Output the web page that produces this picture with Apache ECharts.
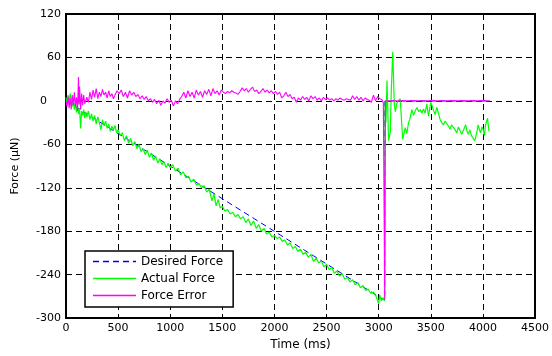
<!DOCTYPE html>
<html>
<head>
<meta charset="utf-8">
<script src="https://cdn.jsdelivr.net/npm/echarts@6/dist/echarts.min.js"></script>
<style>
  html, body { margin: 0; padding: 0; background: #fff; }
  #chart { width: 552px; height: 356px; }
</style>
</head>
<body>
<div id="chart"></div>
<script>
// axis ticks
const timeTicks = [0, 500, 1000, 1500, 2000, 2500, 3000, 3500, 4000, 4500];
const forceTicks = [-300, -240, -180, -120, -60, 0, 60, 120];

// [time (ms), force (uN)]
const desiredForce = [[0, 0], [3058, -275.5], [3060, 0], [4065, 0]];

const actualForce = [
  [0, 5], [10, -6], [20, 8], [30, -4], [40, 10], [50, 2], [60, -8], [70, 4], [80, -12], [90, -3],
  [100, -16], [110, -6], [120, -18], [130, -10], [140, -38], [150, -14], [160, -20], [170, -12],
  [180, -24], [190, -15], [200, -22], [215, -14], [230, -26], [245, -18], [260, -28], [275, -20],
  [290, -32], [305, -22], [320, -30], [335, -40], [350, -26], [365, -34], [380, -28], [395, -38],
  [410, -32], [425, -42], [440, -35], [455, -40], [470, -34], [485, -44], [500, -40], [520, -48],
  [540, -44], [560, -55], [580, -48], [600, -58], [620, -52], [640, -62], [660, -56], [680, -66],
  [700, -60], [720, -70], [740, -66], [760, -74], [780, -68], [800, -78], [820, -72], [840, -82],
  [860, -76], [880, -86], [900, -80], [920, -88], [940, -84], [960, -92], [980, -86], [1000, -92],
  [1025, -88], [1050, -97], [1075, -93], [1100, -102], [1125, -98], [1150, -106], [1175, -104],
  [1200, -112], [1225, -108], [1250, -116], [1275, -114], [1300, -120], [1325, -117], [1350, -126],
  [1375, -122], [1400, -138], [1420, -128], [1440, -145], [1460, -136], [1480, -148], [1500, -146],
  [1525, -152], [1550, -150], [1575, -156], [1600, -154], [1625, -160], [1650, -157], [1675, -163],
  [1700, -160], [1725, -168], [1750, -163], [1775, -172], [1800, -166], [1825, -176], [1850, -171],
  [1875, -180], [1900, -176], [1925, -184], [1950, -181], [1975, -188], [2000, -186], [2025, -190],
  [2050, -188], [2075, -194], [2100, -192], [2125, -199], [2150, -196], [2175, -204], [2200, -201],
  [2225, -208], [2250, -205], [2275, -212], [2300, -209], [2325, -216], [2350, -212], [2375, -222],
  [2400, -217], [2425, -224], [2450, -221], [2475, -229], [2500, -226], [2525, -233], [2550, -230],
  [2575, -238], [2600, -235], [2625, -242], [2650, -239], [2675, -246], [2700, -244], [2725, -250],
  [2750, -247], [2775, -254], [2800, -251], [2825, -258], [2850, -255], [2875, -262], [2900, -260],
  [2925, -266], [2950, -264], [2975, -270], [3000, -280], [3010, -268], [3025, -276], [3040, -272],
  [3055, -276], [3062, 0], [3070, -30], [3080, 28], [3095, -55], [3112, -43], [3120, 10],
  [3135, 68], [3150, -5], [3160, -15], [3175, -3], [3190, 0], [3207, 3], [3230, -53], [3255, -37],
  [3270, -45], [3287, -30], [3300, -25], [3318, -12], [3335, -20], [3350, -14], [3367, -9],
  [3385, -15], [3400, -12], [3414, -17], [3430, -11], [3446, -17], [3462, -4], [3478, -21],
  [3500, -2], [3515, -8], [3526, -13], [3542, -19], [3558, -9], [3575, -18], [3590, -26],
  [3605, -30], [3621, -33], [3637, -28], [3653, -29], [3670, -35], [3685, -39], [3700, -33],
  [3717, -35], [3733, -40], [3749, -44], [3765, -36], [3781, -38], [3797, -46], [3813, -44],
  [3835, -33], [3848, -42], [3860, -46], [3875, -40], [3890, -48], [3905, -50], [3922, -55],
  [3940, -45], [3955, -33], [3967, -40], [3978, -44], [3990, -36], [4004, -40], [4015, -48],
  [4026, -33], [4045, -24], [4058, -42]
];

const forceError = [
  [0, 0], [10, -8], [20, 6], [30, -10], [40, 4], [50, -12], [60, 8], [70, -6], [80, 12], [90, -8],
  [100, 5], [110, -14], [120, 33], [125, -5], [130, 20], [140, -12], [150, 10], [160, -6], [170, 8],
  [180, -4], [200, 5], [215, -2], [230, 12], [245, 2], [260, 15], [275, 5], [290, 17], [305, 3],
  [320, 12], [335, 6], [350, 16], [365, 8], [380, 12], [395, 4], [410, 14], [425, 6], [440, 10],
  [455, 3], [470, 8], [490, 14], [510, 10], [530, 15], [550, 6], [570, 12], [590, 4], [610, 14],
  [630, 8], [650, 12], [670, 6], [690, 9], [710, 3], [730, 7], [750, 2], [770, 6], [790, 0],
  [810, 3], [830, -2], [850, 2], [870, -4], [890, 1], [910, -6], [930, 0], [950, -3], [970, 3],
  [990, -2], [1010, 1], [1030, -7], [1050, 0], [1070, -4], [1090, 2], [1110, 6], [1130, 12],
  [1150, 4], [1170, 14], [1190, 6], [1210, 12], [1230, 4], [1250, 15], [1270, 8], [1290, 13],
  [1310, 5], [1330, 14], [1350, 9], [1370, 16], [1390, 7], [1410, 17], [1430, 10], [1450, 14],
  [1470, 8], [1490, 15], [1510, 12], [1530, 10], [1550, 13], [1570, 11], [1590, 14], [1610, 12],
  [1630, 11], [1650, 9], [1670, 13], [1690, 18], [1710, 14], [1730, 17], [1750, 12], [1770, 16],
  [1790, 19], [1810, 13], [1830, 15], [1850, 10], [1870, 13], [1890, 17], [1910, 12], [1930, 15],
  [1950, 11], [1970, 14], [1990, 10], [2010, 13], [2030, 9], [2050, 12], [2070, 4], [2090, 7],
  [2110, 12], [2130, 6], [2150, 9], [2170, 3], [2190, 5], [2210, -2], [2230, 4], [2250, 1],
  [2270, 6], [2290, 2], [2310, 5], [2330, 0], [2350, 7], [2370, 3], [2390, 6], [2410, 1],
  [2430, 4], [2450, 0], [2470, 5], [2490, 2], [2510, 4], [2530, 1], [2550, 3], [2570, 0],
  [2590, 3], [2610, 1], [2630, 4], [2650, 2], [2670, 1], [2690, 3], [2710, 2], [2730, 1],
  [2750, 7], [2770, 2], [2790, 6], [2810, 1], [2830, 5], [2850, 0], [2870, 4], [2890, 2],
  [2910, 1], [2930, -2], [2950, 8], [2970, 0], [2990, 6], [3010, 3], [3030, 2], [3045, -3],
  [3055, -4], [3058, -275], [3064, 0], [4065, 0]
];

const seriesNames = ["Desired Force", "Actual Force", "Force Error"];

const chart = echarts.init(document.getElementById("chart"));

const font = "DejaVu Sans";
const solidIcon = "path://M0,0 L43,0 L43,1.5 L0,1.5 Z";
const dashedIcon = "path://M0,0 L6,0 L6,1.5 L0,1.5 Z M10,0 L16,0 L16,1.5 L10,1.5 Z M20,0 L26,0 L26,1.5 L20,1.5 Z M30,0 L36,0 L36,1.5 L30,1.5 Z M40,0 L43,0 L43,1.5 L40,1.5 Z";

chart.setOption({
  animation: false,
  backgroundColor: "#fff",
  textStyle: { fontFamily: font },
  grid: {
    left: 66, right: 15, top: 14, bottom: 32,
    show: true, borderColor: "#000", borderWidth: 2
  },
  legend: {
    data: [
      { name: seriesNames[0], icon: dashedIcon },
      { name: seriesNames[1], icon: solidIcon },
      { name: seriesNames[2], icon: solidIcon }
    ],
    orient: "vertical",
    left: 85, top: 251,
    itemWidth: 43, itemHeight: 2, itemGap: 4,
    padding: [4, 10, 5, 8],
    borderColor: "#000", borderWidth: 1.5,
    backgroundColor: "#fff",
    textStyle: { fontSize: 12, color: "#000", fontFamily: font, lineHeight: 13 }
  },
  xAxis: {
    type: "value",
    min: timeTicks[0], max: timeTicks[timeTicks.length - 1], interval: 500,
    name: "Time (ms)", nameLocation: "middle", nameGap: 19,
    nameTextStyle: { fontSize: 12, color: "#000", fontFamily: font },
    axisLine: { show: true, onZero: false, lineStyle: { color: "#000", width: 2 } },
    axisTick: { show: true, inside: true, length: 4, lineStyle: { color: "#000" } },
    axisLabel: { fontSize: 11, color: "#000", margin: 5, fontFamily: font, formatter: (v) => String(v) },
    splitLine: { show: true, lineStyle: { color: "#000", type: [6, 4], width: 1 } }
  },
  yAxis: {
    type: "value",
    min: forceTicks[0], max: forceTicks[forceTicks.length - 1], interval: 60,
    name: "Force (μN)", nameLocation: "middle", nameGap: 45,
    nameTextStyle: { fontSize: 11, color: "#000", fontFamily: font },
    axisLine: { show: true, onZero: false, lineStyle: { color: "#000", width: 2 } },
    axisTick: { show: true, inside: true, length: 4, lineStyle: { color: "#000" } },
    axisLabel: {
      fontSize: 11, color: "#000", margin: 5, fontFamily: font,
      formatter: (v) => (v === 0 ? "0    " : String(v))
    },
    splitLine: { show: true, lineStyle: { color: "#000", type: [6, 4], width: 1 } }
  },
  series: [
    {
      name: seriesNames[0], type: "line", data: desiredForce, showSymbol: false,
      lineStyle: { color: "#0000ff", width: 1, type: [6, 4] },
      itemStyle: { color: "#0000ff" }
    },
    {
      name: seriesNames[1], type: "line", data: actualForce, showSymbol: false,
      lineStyle: { color: "#00ff00", width: 1.2 },
      itemStyle: { color: "#00ff00" }
    },
    {
      name: seriesNames[2], type: "line", data: forceError, showSymbol: false,
      lineStyle: { color: "#ff00ff", width: 1.1 },
      itemStyle: { color: "#ff00ff" }
    }
  ]
});
</script>
</body>
</html>
